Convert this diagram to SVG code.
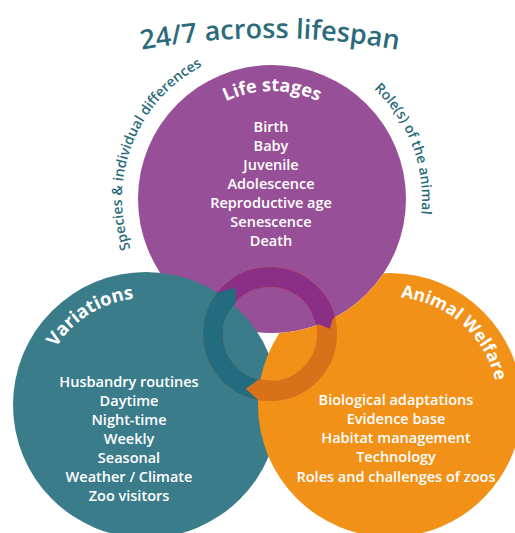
<svg xmlns="http://www.w3.org/2000/svg" width="515" height="533" viewBox="0 0 515 533">
<style>
.lbl{font-family:"Open Sans","Liberation Sans",sans-serif;font-weight:600;fill:#2B6B7C}
.head{font-family:"Open Sans","Liberation Sans",sans-serif;font-weight:700;fill:#fff}
.item{font-family:"Open Sans","Liberation Sans",sans-serif;font-weight:600;font-size:14.5px;fill:#fff;text-anchor:middle}
.ring{fill:none;stroke-width:20}
</style>
<defs>
<path id="p-title" d="M100 59 A700 700 0 0 1 440 59"/>
<path id="p-species" d="M154.6 292.4 A150 150 0 0 1 249.8 50.6"/>
<path id="p-role" d="M296.1 51 A150 150 0 0 1 388.2 293.9"/>
<path id="p-life" d="M178.5 145 A108 108 0 0 1 365.5 145"/>
<path id="p-var" d="M39.1 408.7 A107 107 0 0 1 196.2 310.5"/>
<path id="p-aw" d="M355.5 302.6 A108 108 0 0 1 495.9 426.4"/>
<mask id="m-orange" maskUnits="userSpaceOnUse" x="0" y="0" width="515" height="533">
<rect width="515" height="533" fill="#fff"/><circle cx="272" cy="199" r="134" fill="#000"/>
</mask>
<mask id="m-pring" maskUnits="userSpaceOnUse" x="0" y="0" width="515" height="533">
<circle cx="272" cy="199" r="134" fill="#fff"/><circle cx="146" cy="405" r="133" fill="#000"/>
</mask>
<mask id="m-tring" maskUnits="userSpaceOnUse" x="0" y="0" width="515" height="533">
<circle cx="146" cy="405" r="133" fill="#fff"/><circle cx="390" cy="405" r="132" fill="#000"/>
</mask>
</defs>
<rect width="515" height="533" fill="#fff"/>
<g id="title">
<text class="lbl" font-size="27"><textPath href="#p-title" startOffset="50%" text-anchor="middle">24/7 across lifespan</textPath></text>
<text class="lbl" font-size="14"><textPath href="#p-species" startOffset="50%" text-anchor="middle">Species &amp; individual differences</textPath></text>
<text class="lbl" font-size="14"><textPath href="#p-role" startOffset="50%" text-anchor="middle">Role(s) of the animal</textPath></text>
</g>
<g id="life-stages">
<circle cx="272" cy="199" r="134" fill="#974F97"/>
<text class="head" font-size="18"><textPath href="#p-life" startOffset="50%" text-anchor="middle">Life stages</textPath></text>
<text class="item" x="271" y="132">Birth</text>
<text class="item" x="271" y="151">Baby</text>
<text class="item" x="271" y="170">Juvenile</text>
<text class="item" x="271" y="189">Adolescence</text>
<text class="item" x="271" y="208">Reproductive age</text>
<text class="item" x="271" y="227">Senescence</text>
<text class="item" x="271" y="246">Death</text>
</g>
<g id="variations">
<circle cx="146" cy="405" r="133" fill="#3B7C8B"/>
<text class="head" font-size="18.5"><textPath href="#p-var" startOffset="50%" text-anchor="middle">Variations</textPath></text>
<text class="item" x="129" y="387">Husbandry routines</text>
<text class="item" x="129" y="406">Daytime</text>
<text class="item" x="129" y="425">Night-time</text>
<text class="item" x="129" y="444">Weekly</text>
<text class="item" x="129" y="463">Seasonal</text>
<text class="item" x="129" y="482">Weather / Climate</text>
<text class="item" x="129" y="501">Zoo visitors</text>
</g>
<g id="animal-welfare">
<circle cx="390" cy="405" r="132" fill="#F29118" mask="url(#m-orange)"/>
<text class="head" font-size="17.5"><textPath href="#p-aw" startOffset="50%" text-anchor="middle">Animal Welfare</textPath></text>
<text class="item" x="396" y="405">Biological adaptations</text>
<text class="item" x="396" y="424">Evidence base</text>
<text class="item" x="396" y="443">Habitat management</text>
<text class="item" x="396" y="462">Technology</text>
<text class="item" x="396" y="482">Roles and challenges of zoos</text>
</g>
<g id="connectors">
<circle class="ring" cx="270" cy="334" r="57" stroke="#D8711A"/>
<circle class="ring" cx="270" cy="334" r="57" stroke="#8A2E86" mask="url(#m-pring)"/>
<circle class="ring" cx="270" cy="334" r="57" stroke="#236C80" mask="url(#m-tring)"/>
<polygon fill="#236C80" points="209.3,305.7 217.2,292.8 235.1,287.7 236.2,301.4 227.4,314.1"/>
<polygon fill="#8A2E86" points="328.0,300.5 334.1,314.4 329.8,328.8 315.7,323.0 310.7,310.5"/>
<polygon fill="#D8711A" points="275.8,400.7 258.4,400.0 245.6,388.8 258.6,379.6 274.1,380.8"/>
</g>
</svg>
